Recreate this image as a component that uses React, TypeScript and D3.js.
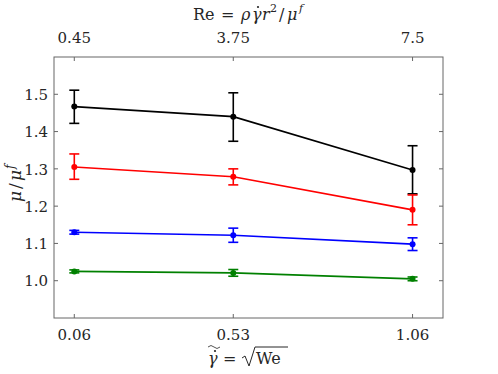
import * as d3 from "d3";

// x positions (gamma tilde) and matching Re labels on the top axis
const xTicks = [0.06, 0.53, 1.06];
const xTickLabels = ["0.06", "0.53", "1.06"];
const topTickLabels = ["0.45", "3.75", "7.5"];
const yTicks = [1.0, 1.1, 1.2, 1.3, 1.4, 1.5];

// mean values and error bar ends per series
const blackMean = [1.467, 1.44, 1.297];
const blackLo = [1.422, 1.374, 1.233];
const blackHi = [1.511, 1.504, 1.362];

const redMean = [1.305, 1.279, 1.19];
const redLo = [1.272, 1.257, 1.15];
const redHi = [1.34, 1.3, 1.23];

const blueMean = [1.13, 1.122, 1.098];
const blueLo = [1.125, 1.103, 1.081];
const blueHi = [1.135, 1.141, 1.115];

const greenMean = [1.025, 1.021, 1.005];
const greenLo = [1.021, 1.012, 1.0];
const greenHi = [1.029, 1.03, 1.01];

const series = [
  { color: "#000000", mean: blackMean, lo: blackLo, hi: blackHi },
  { color: "#ff0000", mean: redMean, lo: redLo, hi: redHi },
  { color: "#0000ff", mean: blueMean, lo: blueLo, hi: blueHi },
  { color: "#008000", mean: greenMean, lo: greenLo, hi: greenHi },
];

const W = 498;
const H = 374;
const margin = { top: 57, right: 55, bottom: 56, left: 54 };
const axisColor = "#666666";
const textColor = "#262626";
const font = "'DejaVu Serif', serif";

export default function App() {
  const innerW = W - margin.left - margin.right;
  const innerH = H - margin.top - margin.bottom;

  const x = d3.scaleLinear().domain([0, 1.15]).range([0, innerW]);
  const y = d3.scaleLinear().domain([0.9, 1.6]).range([innerH, 0]);

  const line = d3
    .line<number>()
    .x((_, i) => x(xTicks[i]))
    .y((d) => y(d));

  const tickLen = 4;
  const cap = 5;

  return (
    <svg
      width={W}
      height={H}
      style={{ position: "absolute", left: 0, top: 0, background: "#fff", fontFamily: font }}
    >
      <g transform={`translate(${margin.left},${margin.top})`}>
        <rect width={innerW} height={innerH} fill="none" stroke={axisColor} strokeWidth={1} />

        {xTicks.map((t, i) => (
          <g key={"xt" + i}>
            <line x1={x(t)} x2={x(t)} y1={innerH} y2={innerH - tickLen} stroke={axisColor} />
            <line x1={x(t)} x2={x(t)} y1={0} y2={tickLen} stroke={axisColor} />
            <text x={x(t)} y={innerH + 22} textAnchor="middle" fontSize={15} fill={textColor}>
              {xTickLabels[i]}
            </text>
            <text x={x(t)} y={-14} textAnchor="middle" fontSize={15} fill={textColor}>
              {topTickLabels[i]}
            </text>
          </g>
        ))}

        {yTicks.map((t, i) => (
          <g key={"yt" + i}>
            <line x1={0} x2={tickLen} y1={y(t)} y2={y(t)} stroke={axisColor} />
            <line x1={innerW} x2={innerW - tickLen} y1={y(t)} y2={y(t)} stroke={axisColor} />
            <text x={-6} y={y(t)} dy="0.38em" textAnchor="end" fontSize={15} fill={textColor}>
              {t.toFixed(1)}
            </text>
          </g>
        ))}

        {series.map((s, si) => (
          <g key={"s" + si}>
            <path d={line(s.mean) ?? ""} fill="none" stroke={s.color} strokeWidth={1.6} />
            {s.mean.map((m, i) => {
              const cx = x(xTicks[i]);
              return (
                <g key={i} stroke={s.color} strokeWidth={1.6}>
                  <line x1={cx} x2={cx} y1={y(s.lo[i])} y2={y(s.hi[i])} />
                  <line x1={cx - cap} x2={cx + cap} y1={y(s.lo[i])} y2={y(s.lo[i])} />
                  <line x1={cx - cap} x2={cx + cap} y1={y(s.hi[i])} y2={y(s.hi[i])} />
                  <circle cx={cx} cy={y(m)} r={3} fill={s.color} stroke="none" />
                </g>
              );
            })}
          </g>
        ))}
      </g>

      {/* top axis title: Re = ρ γ̇ r² / μ^f */}
      <g fill={textColor} fontSize={16}>
        <text x={193} y={20}>Re</text>
        <text x={221} y={20}>=</text>
        <text x={241} y={20} fontStyle="italic">ρ</text>
        <text x={252} y={20} fontStyle="italic">γ</text>
        <circle cx={258} cy={7} r={1.1} />
        <text x={262} y={20} fontStyle="italic">r</text>
        <text x={270} y={12} fontSize={11}>2</text>
        <text x={279} y={20}>/</text>
        <text x={287} y={20} fontStyle="italic">μ</text>
        <text x={299} y={12} fontSize={11} fontStyle="italic">f</text>
      </g>

      {/* bottom axis title: γ̃̇ = √We */}
      <g fill={textColor} fontSize={16}>
        <text x={208} y={364} fontStyle="italic">γ</text>
        <circle cx={215} cy={351} r={1.1} />
        <path d="M208,347 q3,-3 6,0 t6,0" fill="none" stroke={textColor} strokeWidth={0.8} />
        <text x={223} y={364}>=</text>
        <path
          d="M242,358 l3,-2 l4,10 l6,-19 h33"
          fill="none"
          stroke={textColor}
          strokeWidth={1}
        />
        <text x={256} y={364}>We</text>
      </g>

      {/* y axis title: μ / μ^f */}
      <g transform="translate(21,180) rotate(-90)" fill={textColor} fontSize={17}>
        <text x={-22} y={0} fontStyle="italic">μ</text>
        <text x={-9} y={0}>/</text>
        <text x={-1} y={0} fontStyle="italic">μ</text>
        <text x={11} y={-7} fontSize={12} fontStyle="italic">f</text>
      </g>
    </svg>
  );
}
